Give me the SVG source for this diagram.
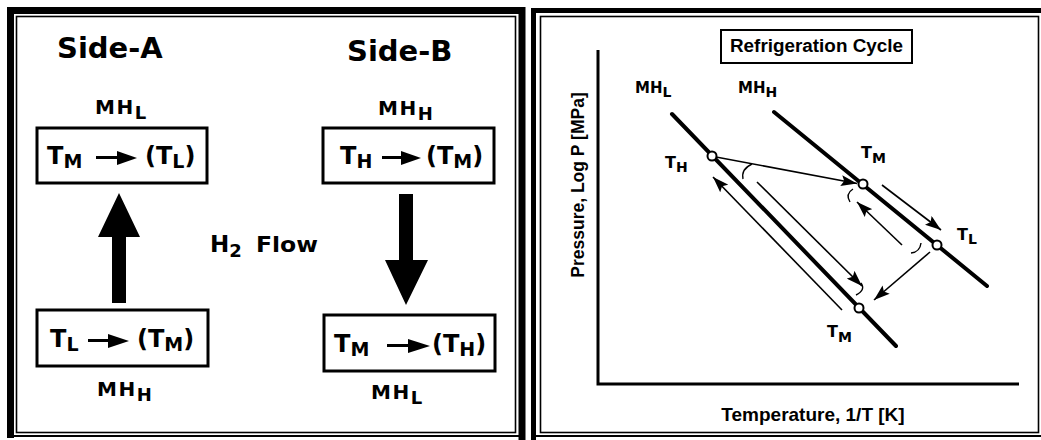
<svg xmlns="http://www.w3.org/2000/svg" width="1041" height="440" viewBox="0 0 1041 440">
<style>
.bg{fill:#fff}
.frame{fill:none;stroke:#000}
.box{fill:#fff;stroke:#000;stroke-width:3}
.d{font-family:"DejaVu Sans",sans-serif;font-weight:bold;fill:#000}
.l{font-family:"Liberation Sans",Arial,sans-serif;font-weight:bold;fill:#000}
.big{font-size:29px}
.mh{font-size:20px;letter-spacing:1.5px}
.bt{font-size:24px}
.sub{font-size:18px}
.bsub{font-size:19px}
.lab{font-size:16px}
.iso{stroke:#000;stroke-width:4;fill:none;stroke-linecap:round}
.pt{fill:#fff;stroke:#000;stroke-width:2}
.con{stroke:#000;stroke-width:1.6;fill:none}
.arc{stroke:#000;stroke-width:1.4;fill:none}
.ax{stroke:#000;stroke-width:3;fill:none}
</style>
<defs>
<marker id="ah" viewBox="0 0 16 11" refX="16" refY="5.5" markerWidth="16" markerHeight="11" markerUnits="userSpaceOnUse" orient="auto">
<path d="M0,0 L16,5.5 L0,11 L3,5.5 z" fill="#000"/>
</marker>
</defs>
<rect class="bg" x="0" y="0" width="1041" height="440"/>
<g id="frames">
<path class="frame" stroke-width="7" d="M10.5,438 V10.5 H522 V440"/>
<rect class="frame" stroke-width="1.6" x="16.5" y="16.5" width="499" height="416"/>
<line class="frame" stroke-width="2" x1="14" y1="436" x2="519" y2="436"/>
<path class="frame" stroke-width="5" d="M533.5,440 V10.5 H1041"/>
<rect class="frame" stroke-width="1.6" x="540.5" y="16.5" width="498" height="416"/>
<line class="frame" stroke-width="2" x1="536" y1="436" x2="1041" y2="436"/>
</g>
<g id="sideA-title"><text class="d big" x="57" y="58">Side-A</text></g>
<g id="sideB-title"><text class="d big" x="347" y="61">Side-B</text></g>
<g id="A-top">
<text class="d mh" x="95" y="114">MH<tspan class="sub" dy="5">L</tspan></text>
<rect class="box" x="37" y="128" width="170" height="55"/>
<text class="d bt" x="47" y="164">T<tspan class="bsub" dy="4">M</tspan></text>
<path d="M96,157.5 H119" stroke="#000" stroke-width="3"/>
<polygon points="117,151 137,158 117,165"/>
<text class="d bt" x="145" y="164">(T<tspan class="bsub" dy="4">L</tspan><tspan dy="-4">)</tspan></text>
</g>
<g id="A-bottom">
<rect class="box" x="37" y="310" width="171" height="56"/>
<text class="d bt" x="50" y="347">T<tspan class="bsub" dy="4">L</tspan></text>
<path d="M88,340.5 H110" stroke="#000" stroke-width="3"/>
<polygon points="108,334 129,341 108,348"/>
<text class="d bt" x="137" y="347">(T<tspan class="bsub" dy="4">M</tspan><tspan dy="-4">)</tspan></text>
<text class="d mh" x="97" y="396">MH<tspan class="sub" dy="5">H</tspan></text>
</g>
<g id="B-top">
<text class="d mh" x="378" y="115">MH<tspan class="sub" dy="5">H</tspan></text>
<rect class="box" x="323" y="128" width="171" height="55"/>
<text class="d bt" x="340" y="164">T<tspan class="bsub" dy="4">H</tspan></text>
<path d="M382,157.5 H403" stroke="#000" stroke-width="3"/>
<polygon points="401,151 421,158 401,165"/>
<text class="d bt" x="426" y="164">(T<tspan class="bsub" dy="4">M</tspan><tspan dy="-4">)</tspan></text>
</g>
<g id="B-bottom">
<rect class="box" x="324" y="315" width="171" height="56"/>
<text class="d bt" x="334" y="352">T<tspan class="bsub" dy="4">M</tspan></text>
<path d="M387,345.5 H410" stroke="#000" stroke-width="3"/>
<polygon points="408,339 430,346 408,353"/>
<text class="d bt" x="432" y="352">(T<tspan class="bsub" dy="4">H</tspan><tspan dy="-4">)</tspan></text>
<text class="d mh" x="371" y="399">MH<tspan class="sub" dy="5">L</tspan></text>
</g>
<g id="flow-label">
<text class="d" font-size="23" x="210" y="252">H<tspan font-size="18" dy="5">2</tspan></text>
<text class="d" font-size="22" x="256" y="252" textLength="62" lengthAdjust="spacingAndGlyphs">Flow</text>
</g>
<g id="flow-arrows">
<polygon points="112,303 126,303 126,237 140,237 119,193 98,237 112,237"/>
<polygon points="399,194 413,194 413,260 428,260 406,305 385,260 399,260"/>
</g>
<g id="chart">
<rect x="721" y="30" width="191" height="33" fill="#fff" stroke="#000" stroke-width="2"/>
<text class="l" font-size="18" x="730" y="52" textLength="173" lengthAdjust="spacingAndGlyphs">Refrigeration Cycle</text>
<path class="ax" d="M598,50 V384 H1019"/>
<text class="l" font-size="17.5" transform="translate(584,185) rotate(-90)" text-anchor="middle">Pressure, Log P [MPa]</text>
<text class="l" font-size="19" x="813" y="421" text-anchor="middle">Temperature, 1/T [K]</text>
<text class="d" font-size="15" x="635" y="93">MH<tspan font-size="14" dy="4">L</tspan></text>
<text class="d" font-size="15" x="738" y="93">MH<tspan font-size="14" dy="4">H</tspan></text>
</g>
<g id="isotherm-MHL"><line class="iso" x1="672" y1="114" x2="896" y2="346"/></g>
<g id="isotherm-MHH"><line class="iso" x1="774" y1="112" x2="987" y2="286"/></g>
<g id="connectors">
<line class="con" x1="716" y1="157" x2="857" y2="183.5" marker-end="url(#ah)"/>
<line class="con" x1="882" y1="185" x2="941" y2="230" marker-end="url(#ah)"/>
<line class="con" x1="902" y1="245" x2="857" y2="202" marker-end="url(#ah)"/>
<line class="con" x1="930" y1="252" x2="874" y2="300" marker-end="url(#ah)"/>
<line class="con" x1="757" y1="182" x2="862" y2="286" marker-end="url(#ah)"/>
<line class="con" x1="842" y1="310" x2="713" y2="177" marker-end="url(#ah)"/>
<path class="arc" d="M752,164 Q741,169 743,179"/>
<path class="arc" d="M853,189 Q845,194 850,202"/>
<path class="arc" d="M921,243 Q920,252 911,253"/>
<path class="arc" d="M861,283 Q866,290 856,295"/>
</g>
<g id="pt-TH"><circle class="pt" cx="712" cy="156" r="4.5"/><text class="d lab" x="665" y="168">T<tspan font-size="14" dy="4">H</tspan></text></g>
<g id="pt-TM1"><circle class="pt" cx="863" cy="184" r="4.5"/><text class="d lab" x="861" y="158">T<tspan font-size="14" dy="5">M</tspan></text></g>
<g id="pt-TL"><circle class="pt" cx="937" cy="245" r="4.5"/><text class="d lab" x="957" y="240">T<tspan font-size="14" dy="4">L</tspan></text></g>
<g id="pt-TM2"><circle class="pt" cx="859" cy="308" r="4.5"/><text class="d lab" x="827" y="337">T<tspan font-size="14" dy="5">M</tspan></text></g>
</svg>
